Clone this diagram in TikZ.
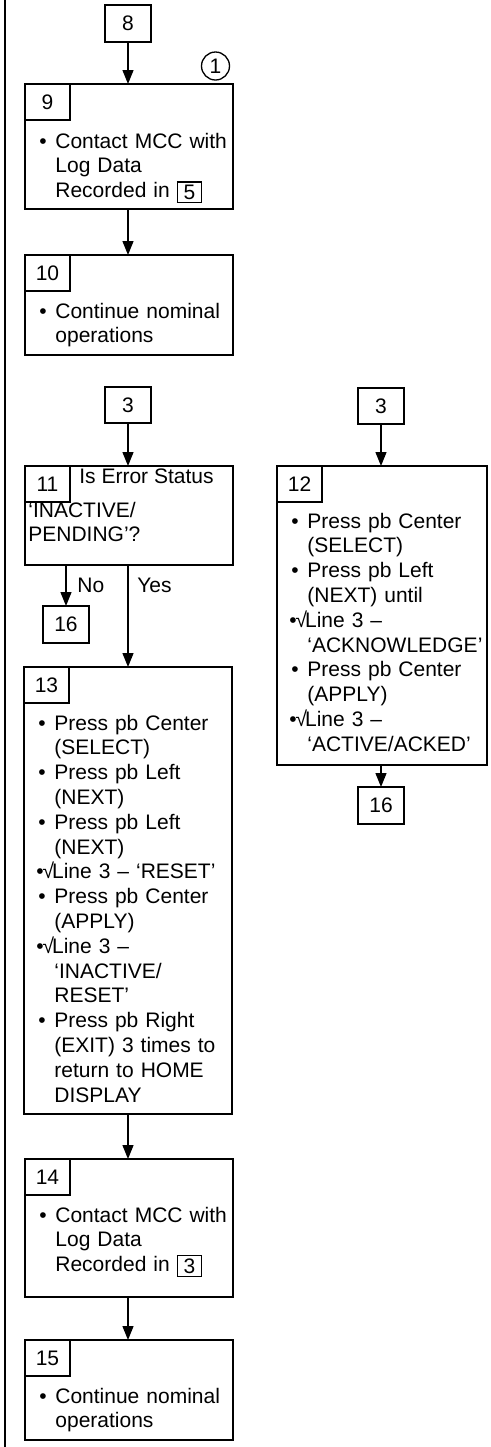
\documentclass[tikz,border=0pt]{standalone}
\usepackage{fontspec}
\setmainfont{Liberation Sans}
\usepackage{tikz}
\usetikzlibrary{arrows.meta}
\newcommand{\bul}{\makebox[15pt][l]{\hspace{7pt}\textbullet}}
\newcommand{\ind}{\hspace*{15pt}}
\newcommand{\chk}{\hspace*{6pt}\textbullet\hspace{-0.6pt}√\hspace{-1pt}}
\newcommand{\refno}[1]{\raisebox{-0.9pt}{\fbox{\makebox[9pt]{#1}}}}
\setlength{\fboxsep}{1.2pt}
\setlength{\fboxrule}{0.65pt}

\begin{document}
\begin{tikzpicture}[x=0.5pt,y=-0.5pt,font=\fontsize{10.5pt}{12.4pt}\selectfont,
  stepbox/.style={draw,line width=1pt,minimum width=104pt,inner sep=0pt,outer sep=0pt},
  numtab/.style={draw,line width=0.65pt,minimum width=22.5pt,minimum height=18pt,inner sep=0pt,outer sep=0pt,anchor=north west},
  refbox/.style={draw,line width=0.75pt,minimum width=23pt,minimum height=18.5pt,inner sep=0pt,outer sep=0pt},
  body/.style={anchor=base west,inner sep=0pt,text width=130pt,align=left},
  lab/.style={anchor=base west,inner sep=0pt},
  flow/.style={line width=0.65pt,-{Triangle[length=7pt,width=5.5pt]}}]
  \useasboundingbox (0,0) rectangle (491,1447);
  \draw[line width=1pt] (4.5,0) -- (4.5,1447);
  % upper column
  \node[refbox] (b8) at (128,23.5) {8};
  \node[stepbox,minimum height=62.5pt] (b9) at (129,146.5) {};
  \node[numtab] (n9) at (b9.north west) {9};
  \node[body] (t9) at (25,148) {\bul Contact MCC with\\ \ind Log Data\\ \ind Recorded in \refno{5}};
  \node[draw,circle,line width=0.65pt,minimum size=14pt,inner sep=0pt] (c1) at (215.5,66) {1};
  \node[stepbox,minimum height=50pt] (b10) at (129,305) {};
  \node[numtab] (n10) at (b10.north west) {10};
  \node[body] (t10) at (25,318) {\bul Continue nominal\\ \ind operations};
  \draw[flow] (b8.south) -- (b8.south |- b9.north);
  \draw[flow] (b8.south |- b9.south) -- (b8.south |- b10.north);
  % decision column
  \node[refbox,minimum height=18pt] (b3a) at (128,405) {3};
  \node[stepbox,minimum height=49.5pt] (b11) at (129,515.5) {};
  \node[numtab] (n11) at (b11.north west) {11};
  \node[lab] (q11) at (79,483) {Is Error Status};
  \node[body] (t11) at (28,517) {`INACTIVE/\\PENDING'?};
  \node[refbox] (b16a) at (66,624.5) {16};
  \node[stepbox,minimum width=104pt,minimum height=223.5pt] (b13) at (128,890.5) {};
  \node[numtab] (n13) at (b13.north west) {13};
  \node[body] (t13) at (24,730) {\bul Press pb Center\\ \ind (SELECT)\\
    \bul Press pb Left\\ \ind (NEXT)\\ \bul Press pb Left\\ \ind (NEXT)\\
    \chk Line 3 -- `RESET'\\ \bul Press pb Center\\ \ind (APPLY)\\
    \chk Line 3 --\\ \ind `INACTIVE/\\ \ind RESET'\\
    \bul Press pb Right\\ \ind (EXIT) 3 times to\\ \ind return to HOME\\ \ind DISPLAY};
  \node[stepbox,minimum height=69pt] (b14) at (129,1228) {};
  \node[numtab] (n14) at (b14.north west) {14};
  \node[body] (t14) at (25,1222) {\bul Contact MCC with\\ \ind Log Data\\ \ind Recorded in \refno{3}};
  \node[stepbox,minimum height=50pt] (b15) at (129,1390) {};
  \node[numtab] (n15) at (b15.north west) {15};
  \node[body] (t15) at (25,1403) {\bul Continue nominal\\ \ind operations};
  \draw[flow] (b3a.south) -- (b3a.south |- b11.north);
  \draw[flow] (b16a.north |- b11.south) -- (b16a.north);
  \draw[flow] (b13.north |- b11.south) -- (b13.north);
  \node[lab] (no) at (77,592) {No};
  \node[lab] (yes) at (137,592) {Yes};
  \draw[flow] (b13.south) -- (b13.south |- b14.north);
  \draw[flow] (b13.south |- b14.south) -- (b13.south |- b15.north);
  % right column
  \node[refbox,minimum height=18pt] (b3b) at (381,406) {3};
  \node[stepbox,minimum width=105pt,minimum height=149.5pt] (b12) at (382,615.5) {};
  \node[numtab] (n12) at (b12.north west) {12};
  \node[body] (t12) at (277,528) {\bul Press pb Center\\ \ind (SELECT)\\
    \bul Press pb Left\\ \ind (NEXT) until\\ \chk Line 3 --\\ \ind `ACKNOWLEDGE'\\
    \bul Press pb Center\\ \ind (APPLY)\\ \chk Line 3 --\\ \ind `ACTIVE/ACKED'};
  \node[refbox] (b16b) at (381,805.5) {16};
  \draw[flow] (b3b.south) -- (b3b.south |- b12.north);
  \draw[flow] (b3b.south |- b12.south) -- (b16b.north);
\end{tikzpicture}
\end{document}
